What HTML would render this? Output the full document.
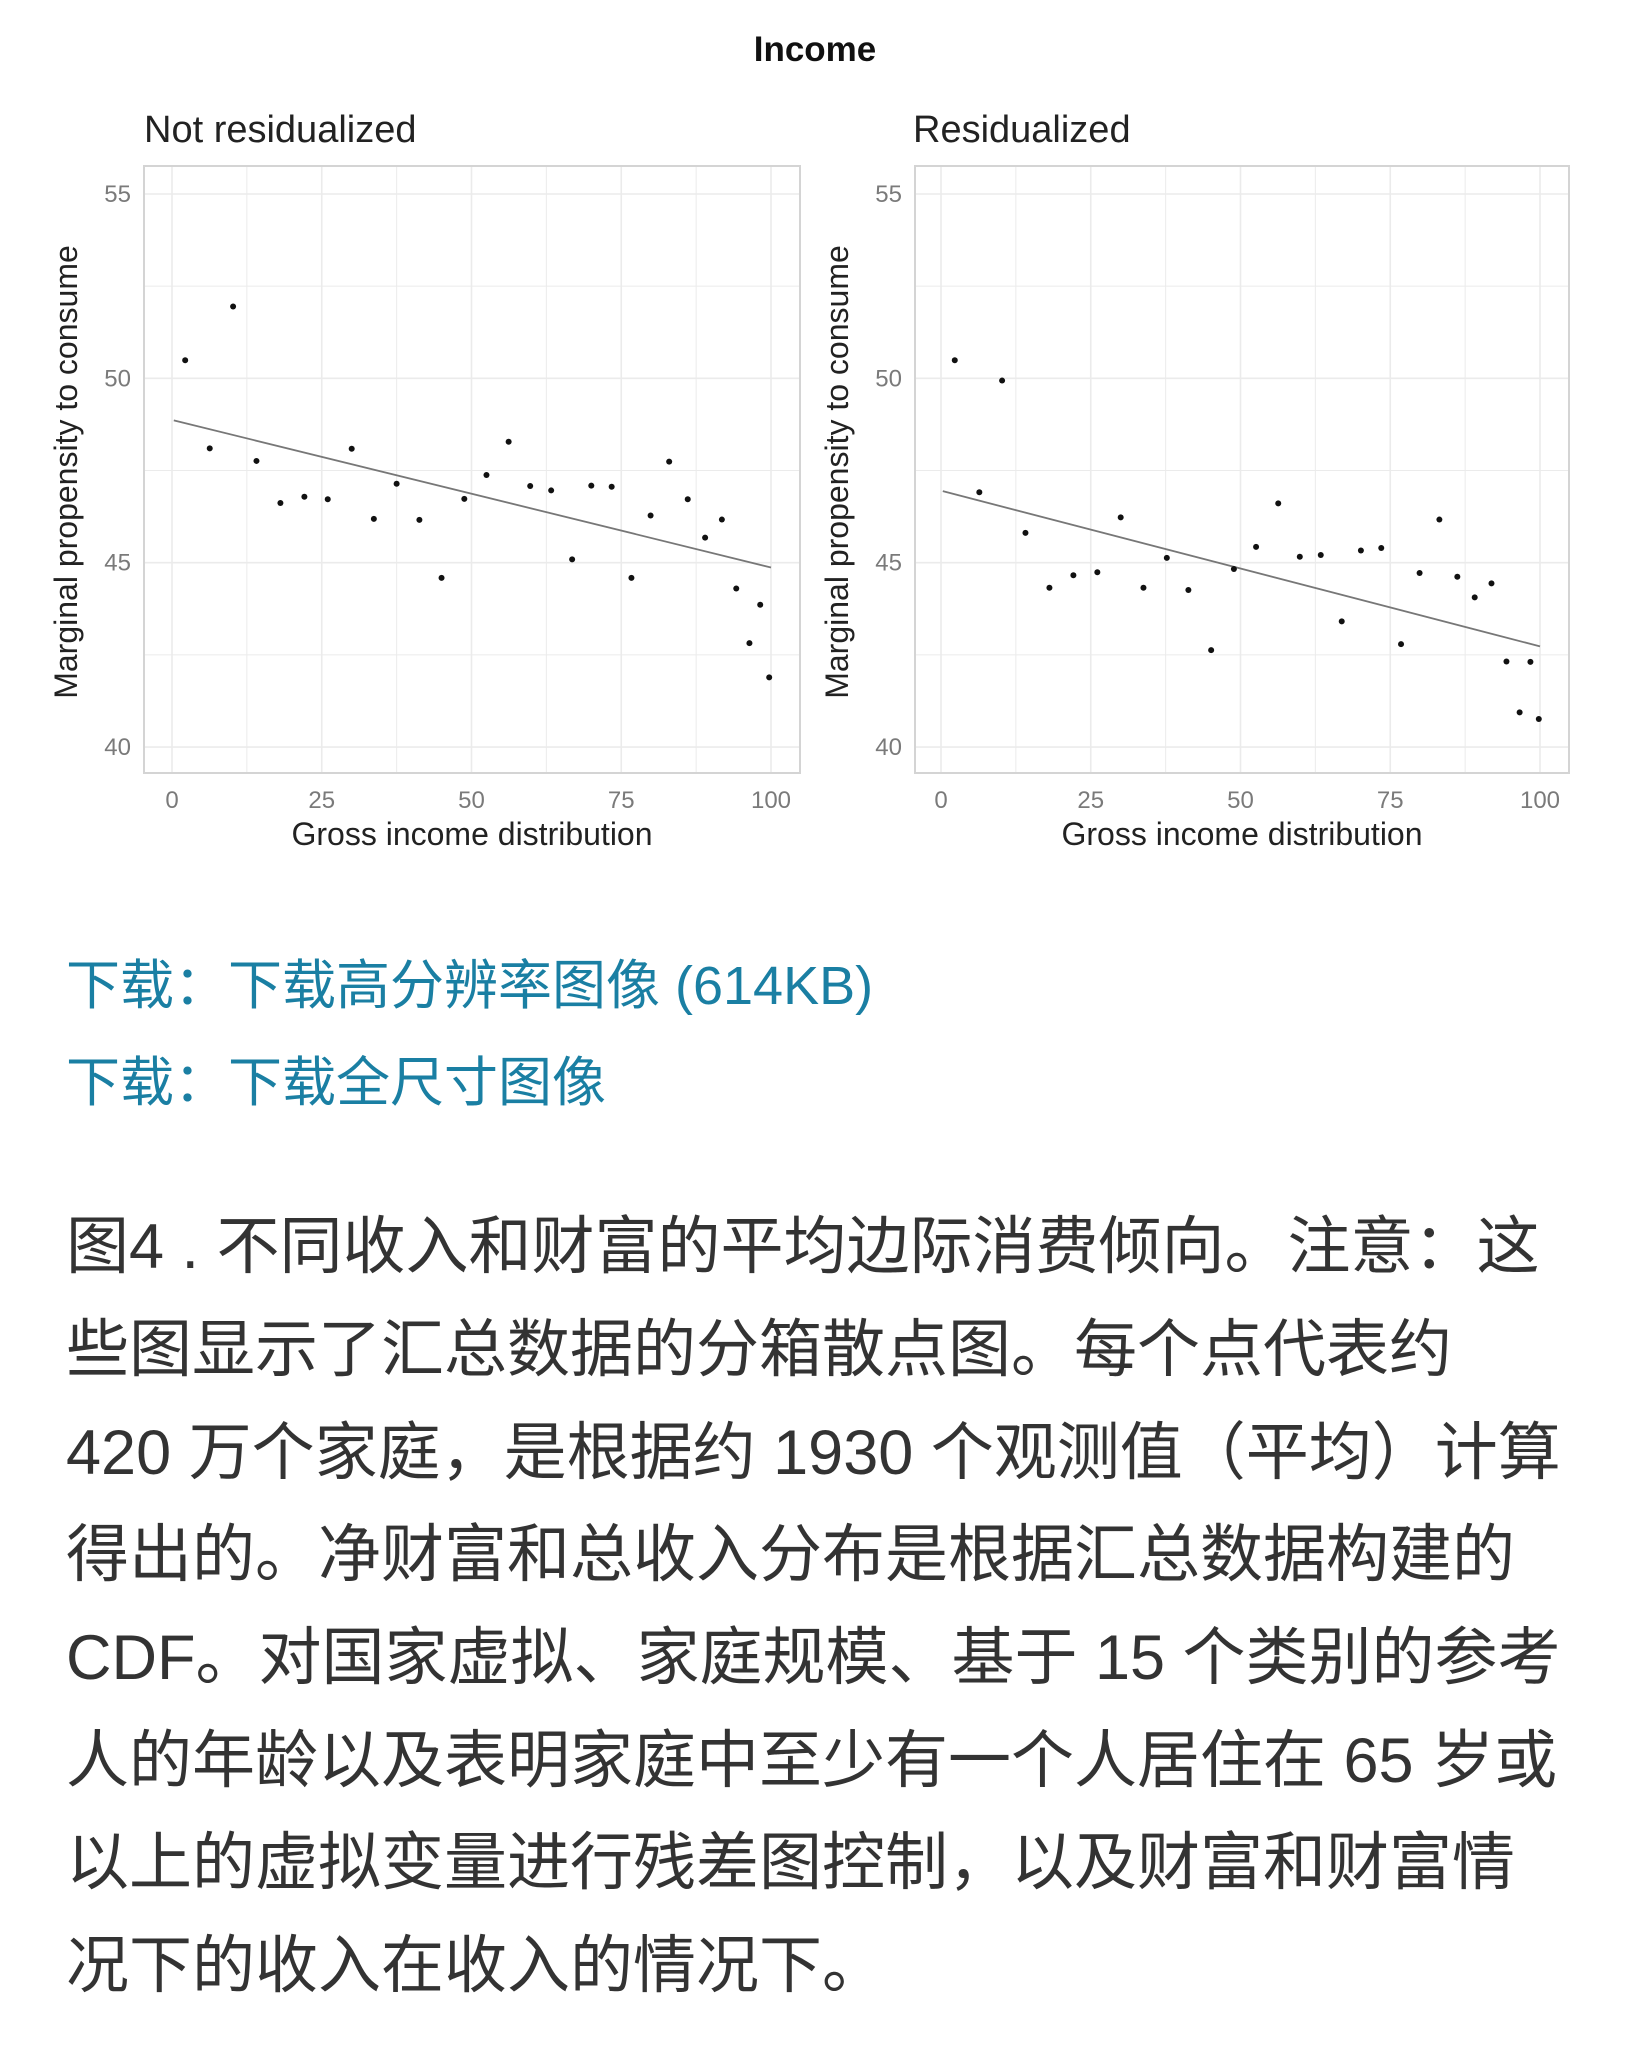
<!DOCTYPE html>
<html><head><meta charset="utf-8"><style>
body{margin:0;width:1626px;height:2048px;background:#fff;position:relative;overflow:hidden;font-family:"Liberation Sans","Noto Sans CJK SC",sans-serif}
svg{position:absolute;left:0;top:0}
.l{position:absolute;left:66px;white-space:nowrap;font-family:"Liberation Sans","Noto Sans CJK SC",sans-serif}
.lk{color:#1a7fa3;font-size:54px;line-height:70px}
.p{color:#333;font-size:63px;line-height:103px}
</style></head><body>
<svg id="s" width="1626" height="900" xmlns="http://www.w3.org/2000/svg">
<text x="815" y="61" text-anchor="middle" font-size="35" font-weight="bold" fill="#111">Income</text>
<text x="144" y="142" font-size="38" fill="#222">Not residualized</text>
<text x="913" y="142" font-size="38" fill="#222">Residualized</text>
</svg>
<div class="l lk" style="top:951px">下载：下载高分辨率图像 (614KB)</div>
<div class="l lk" style="top:1048px">下载：下载全尺寸图像</div>
<div class="l p" style="top:1196px">图4 . 不同收入和财富的平均边际消费倾向。注意：这</div>
<div class="l p" style="top:1299px">些图显示了汇总数据的分箱散点图。每个点代表约</div>
<div class="l p" style="top:1402px">420 万个家庭，是根据约 1930 个观测值（平均）计算</div>
<div class="l p" style="top:1504px">得出的。净财富和总收入分布是根据汇总数据构建的</div>
<div class="l p" style="top:1607px">CDF。对国家虚拟、家庭规模、基于 15 个类别的参考</div>
<div class="l p" style="top:1710px">人的年龄以及表明家庭中至少有一个人居住在 65 岁或</div>
<div class="l p" style="top:1812px">以上的虚拟变量进行残差图控制，以及财富和财富情</div>
<div class="l p" style="top:1915px">况下的收入在收入的情况下。</div>
<script>
var s=document.getElementById('s'),h='';
function Y(v){return 194+(55-v)*36.87}
var P1=[[2.2,50.49],[6.3,48.1],[10.2,51.95],[14.1,47.76],[18.1,46.62],[22.1,46.79],[26,46.72],[30,48.09],[33.7,46.19],[37.5,47.14],[41.3,46.16],[45,44.59],[48.8,46.73],[52.5,47.38],[56.2,48.28],[59.8,47.08],[63.3,46.96],[66.8,45.09],[70,47.09],[73.4,47.06],[76.7,44.59],[79.9,46.28],[83,47.74],[86.1,46.72],[89,45.68],[91.8,46.17],[94.2,44.3],[96.4,42.82],[98.2,43.86],[99.7,41.89]];
var P2=[[2.3,50.49],[6.4,46.91],[10.2,49.94],[14.1,45.81],[18.1,44.32],[22.1,44.66],[26.1,44.74],[30,46.23],[33.8,44.32],[37.7,45.13],[41.3,44.26],[45.1,42.63],[48.9,44.83],[52.6,45.43],[56.3,46.61],[59.9,45.16],[63.4,45.21],[66.9,43.41],[70.1,45.33],[73.5,45.4],[76.8,42.79],[79.9,44.72],[83.2,46.17],[86.2,44.62],[89.1,44.06],[91.9,44.44],[94.4,42.32],[96.6,40.94],[98.4,42.31],[99.8,40.76]];
function panel(L,R,x0,pts,l0,l1){
 var X=function(v){return x0+v*5.99};
 for(var g=-12.5;g<=112.5;g+=12.5){var x=X(g);if(x>L&&x<R)h+='<line x1="'+x+'" x2="'+x+'" y1="166" y2="773" stroke="#ebebeb" stroke-width="'+(g%25==0?1.6:1)+'"/>';}
 for(var v=40;v<=55;v+=2.5){h+='<line x1="'+L+'" x2="'+R+'" y1="'+Y(v)+'" y2="'+Y(v)+'" stroke="#ebebeb" stroke-width="'+(v%5==0?1.6:1)+'"/>';}
 h+='<rect x="'+L+'" y="166" width="'+(R-L)+'" height="607" fill="none" stroke="#d4d4d4" stroke-width="2"/>';
 [40,45,50,55].forEach(function(v){h+='<text x="'+(L-13)+'" y="'+(Y(v)+8)+'" text-anchor="end" font-size="24" fill="#7a7a7a">'+v+'</text>';});
 [0,25,50,75,100].forEach(function(v){h+='<text x="'+X(v)+'" y="808" text-anchor="middle" font-size="24" fill="#7a7a7a">'+v+'</text>';});
 h+='<line x1="'+X(0.3)+'" y1="'+Y(l0)+'" x2="'+X(100)+'" y2="'+Y(l1)+'" stroke="#777" stroke-width="1.8"/>';
 pts.forEach(function(p){h+='<circle cx="'+X(p[0])+'" cy="'+Y(p[1])+'" r="3" fill="#111"/>';});
 h+='<text x="'+((L+R)/2)+'" y="845" text-anchor="middle" font-size="32" fill="#222">Gross income distribution</text>';
 h+='<text transform="translate('+(L-67)+',472) rotate(-90)" text-anchor="middle" font-size="32" fill="#222">Marginal propensity to consume</text>';
}
panel(144,800,172,P1,48.86,44.87);
panel(915,1569,941,P2,46.94,42.73);
s.insertAdjacentHTML('beforeend',h);
</script>
</body></html>
